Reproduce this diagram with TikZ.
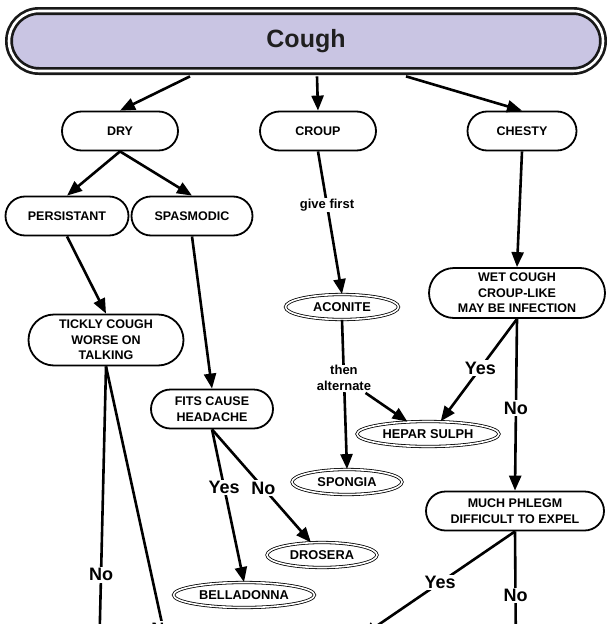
\documentclass[tikz,border=0pt]{standalone}
\usepackage{fontspec}
\setmainfont{Liberation Sans}
\usetikzlibrary{arrows.meta,calc,shapes.geometric,shapes.misc}
\definecolor{lavender}{RGB}{201,197,227}

\begin{document}
\begin{tikzpicture}[x=1pt,y=-1pt,
  box/.style={rounded rectangle,draw,line width=1.8pt,fill=white,inner sep=0pt,minimum height=39pt,align=center,font=\bfseries\fontsize{12.5}{15.5}\selectfont},
  remedy/.style={ellipse,draw,double,double distance=1.6pt,line width=0.8pt,fill=white,inner sep=0pt,minimum height=25pt,font=\bfseries\fontsize{12.8}{15}\selectfont},
  arr/.style={line width=2.6pt,-{Triangle[length=15pt,width=12pt]}},
  yn/.style={fill=white,inner sep=1.5pt,font=\bfseries\fontsize{18}{20}\selectfont},
  note/.style={fill=white,inner sep=1pt,align=center,font=\bfseries\fontsize{13}{15.5}\selectfont}]
\useasboundingbox (0,0) rectangle (610,624);
\clip (0,0) rectangle (610,624);
\node[rounded rectangle,draw=black!90,fill=lavender,double=white,double distance=2.6pt,line width=2.7pt,minimum width=594pt,minimum height=60pt,inner sep=0pt,text=black!88,font=\bfseries\fontsize{25}{28}\selectfont] (cough) at (306,41) {Cough};
% first row
\node[box,minimum width=116pt] (dry) at (120,131) {DRY};
\node[box,minimum width=116pt] (croup) at (318,131) {CROUP};
\node[box,minimum width=109pt] (chesty) at (522,131) {CHESTY};
\node[box,minimum width=123pt] (persist) at (67,216) {PERSISTANT};
\node[box,minimum width=121pt] (spasm) at (192,216) {SPASMODIC};
\node[box,minimum width=155pt,minimum height=51pt] (tickly) at (106,340) {TICKLY COUGH\\WORSE ON\\TALKING};
\node[box,minimum width=122pt] (fits) at (212,409) {FITS CAUSE\\HEADACHE};
\node[box,minimum width=176pt,minimum height=50pt] (wet) at (517,293) {WET COUGH\\CROUP-LIKE\\MAY BE INFECTION};
\node[box,minimum width=178pt] (phlegm) at (515,511) {MUCH PHLEGM\\DIFFICULT TO EXPEL};
% remedies
\node[remedy,minimum width=113pt] (aconite) at (342,307) {ACONITE};
\node[remedy,minimum width=142pt] (hepar) at (428,434) {HEPAR SULPH};
\node[remedy,minimum width=110pt] (spongia) at (347,482) {SPONGIA};
\node[remedy,minimum width=110pt] (drosera) at (322,555) {DROSERA};
\node[remedy,minimum width=141pt] (bella) at (244,595) {BELLADONNA};
% off the page
\coordinate (tkno) at (99,660); \coordinate (tkyes) at (170,660);
\coordinate (phyes) at (362,636); \coordinate (phno) at (516,660);

\draw[arr] ($(cough.south)+(-116,4)$) -- (dry.north);
\draw[arr] ($(cough.south)+(11,4)$) -- (croup.north);
\draw[arr] ($(cough.south)+(100,4)$) -- (chesty.north);
\draw[arr] (dry.south) -- (persist.north);
\draw[arr] (dry.south) -- (spasm.north);
\draw[arr] (persist.south) -- (tickly.north);
\draw[arr] (spasm.south) -- (fits.north);
\draw[arr] (croup.south) -- node[note,pos=0.375]{give first} (aconite.north);
\draw[arr] (aconite.south) -- node[note,pos=0.39] (then) {then\\alternate} (spongia.north);
\draw[arr] (then) -- (hepar.149);
\draw[arr] (chesty.south) -- (wet.north);
\draw[arr] (wet.south) -- node[yn,pos=0.48]{Yes} (hepar.45);
\draw[arr] (wet.south) -- node[yn,pos=0.52]{No} (phlegm.north);
\draw[arr] (fits.south) -- node[yn,pos=0.38]{Yes} (bella.north);
\draw[arr] (fits.south) -- node[yn,pos=0.52]{No} (drosera);
\draw[arr] (tickly.south) -- node[yn,pos=0.71]{No} (tkno);
\draw[arr] (tickly.south) -- node[yn,pos=0.895]{No} (tkyes);
\draw[arr] (phlegm.south) -- node[yn,pos=0.49]{Yes} (phyes);
\draw[arr] (phlegm.south) -- node[yn,pos=0.5]{No} (phno);
\end{tikzpicture}
\end{document}
